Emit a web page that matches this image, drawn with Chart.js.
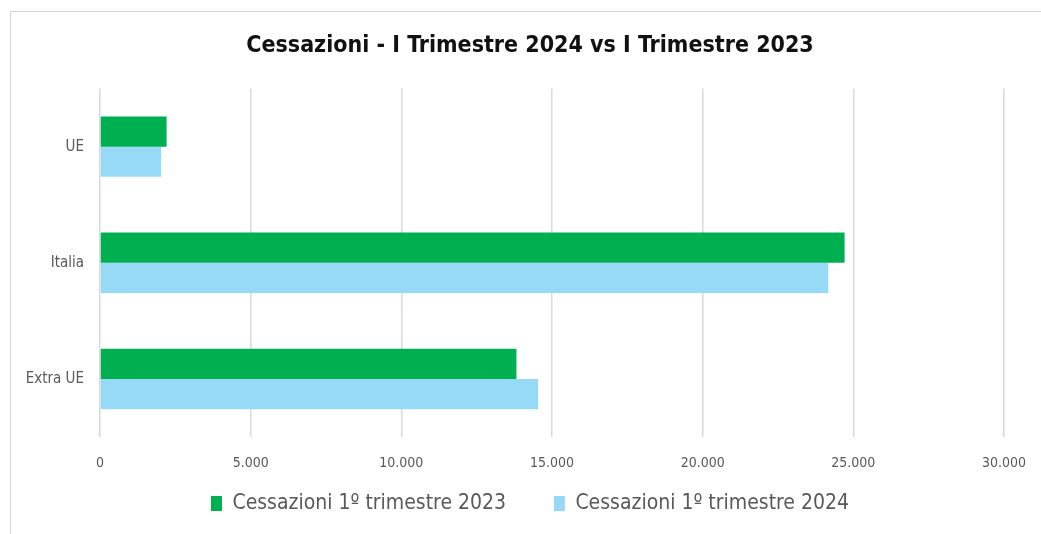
<!DOCTYPE html>
<html>
<head>
<meta charset="utf-8">
<script src="https://cdn.jsdelivr.net/npm/chart.js@4/dist/chart.umd.min.js"></script>
<style>
  html, body { margin: 0; padding: 0; background: #fff; }
  #wrap { position: relative; width: 1041px; height: 534px; overflow: hidden; }
  #frame {
    position: absolute; left: 10px; top: 11px; width: 1100px; height: 600px;
    border-left: 1.5px solid #d4d4d4; border-top: 1.5px solid #d4d4d4;
  }
  canvas { position: absolute; left: 0; top: 0; }
</style>
</head>
<body>
<div id="wrap">
  <div id="frame"></div>
  <!-- the frame runs past the right edge, so the canvas does too -->
  <canvas id="chart" width="1060" height="534"></canvas>
</div>
<script>
const categories = ['UE', 'Italia', 'Extra UE'];
const values2023 = [2210, 24710, 13820];
const values2024 = [2030, 24170, 14540];
const seriesLabels = ['Cessazioni 1º trimestre 2023', 'Cessazioni 1º trimestre 2024'];
const chartTitle = 'Cessazioni - I Trimestre 2024 vs I Trimestre 2023';

const narrow = "'Liberation Sans Narrow', 'DejaVu Sans Condensed', 'Roboto', sans-serif";

// 25000 -> "25.000"
const formatIt = (v) => String(v).replace(/\B(?=(\d{3})+(?!\d))/g, '.');

new Chart(document.getElementById('chart').getContext('2d'), {
  type: 'bar',
  data: {
    labels: categories,
    datasets: [
      {
        label: seriesLabels[0],
        data: values2023,
        backgroundColor: '#00B050',
        borderWidth: 0
      },
      {
        label: seriesLabels[1],
        data: values2024,
        backgroundColor: '#97DAF7',
        borderWidth: 0
      }
    ]
  },
  options: {
    indexAxis: 'y',
    responsive: false,
    animation: false,
    layout: {
      padding: { left: 0, right: 0, top: 0, bottom: 10 }
    },
    datasets: {
      bar: {
        barPercentage: 1,
        categoryPercentage: 0.52
      }
    },
    scales: {
      x: {
        min: 0,
        max: 30000,
        ticks: {
          stepSize: 5000,
          padding: 18,
          color: '#595959',
          font: { family: narrow, size: 14 },
          callback: (value) => formatIt(value)
        },
        grid: {
          color: '#d9d9d9',
          lineWidth: 1.5,
          drawTicks: false
        },
        border: { display: false },
        afterFit: (scale) => { scale.height = 46; }
      },
      y: {
        ticks: {
          padding: 16,
          color: '#595959',
          font: { family: narrow, size: 15 }
        },
        grid: { display: false, drawTicks: false },
        border: { display: false },
        afterFit: (scale) => { scale.width = 100; }
      },
      // empty right-hand spacer so the plot ends at 30.000 while title and legend stay centred
      spacer: {
        type: 'linear',
        position: 'right',
        ticks: { display: false },
        grid: { display: false, drawTicks: false },
        border: { display: false },
        afterFit: (scale) => { scale.width = 56; }
      }
    },
    plugins: {
      title: {
        display: true,
        text: chartTitle,
        color: '#111',
        font: { family: narrow, size: 23, weight: 'bold' },
        padding: { top: 32, bottom: 29 }
      },
      legend: {
        position: 'bottom',
        labels: {
          color: '#595959',
          font: { family: narrow, size: 21 },
          boxWidth: 11,
          boxHeight: 15,
          padding: 10,
          generateLabels: (chart) => {
            const items = Chart.defaults.plugins.legend.labels.generateLabels(chart);
            items[0].text = items[0].text + '\u2003\u2003';
            return items;
          }
        }
      },
      tooltip: { enabled: false }
    }
  }
});
</script>
</body>
</html>
